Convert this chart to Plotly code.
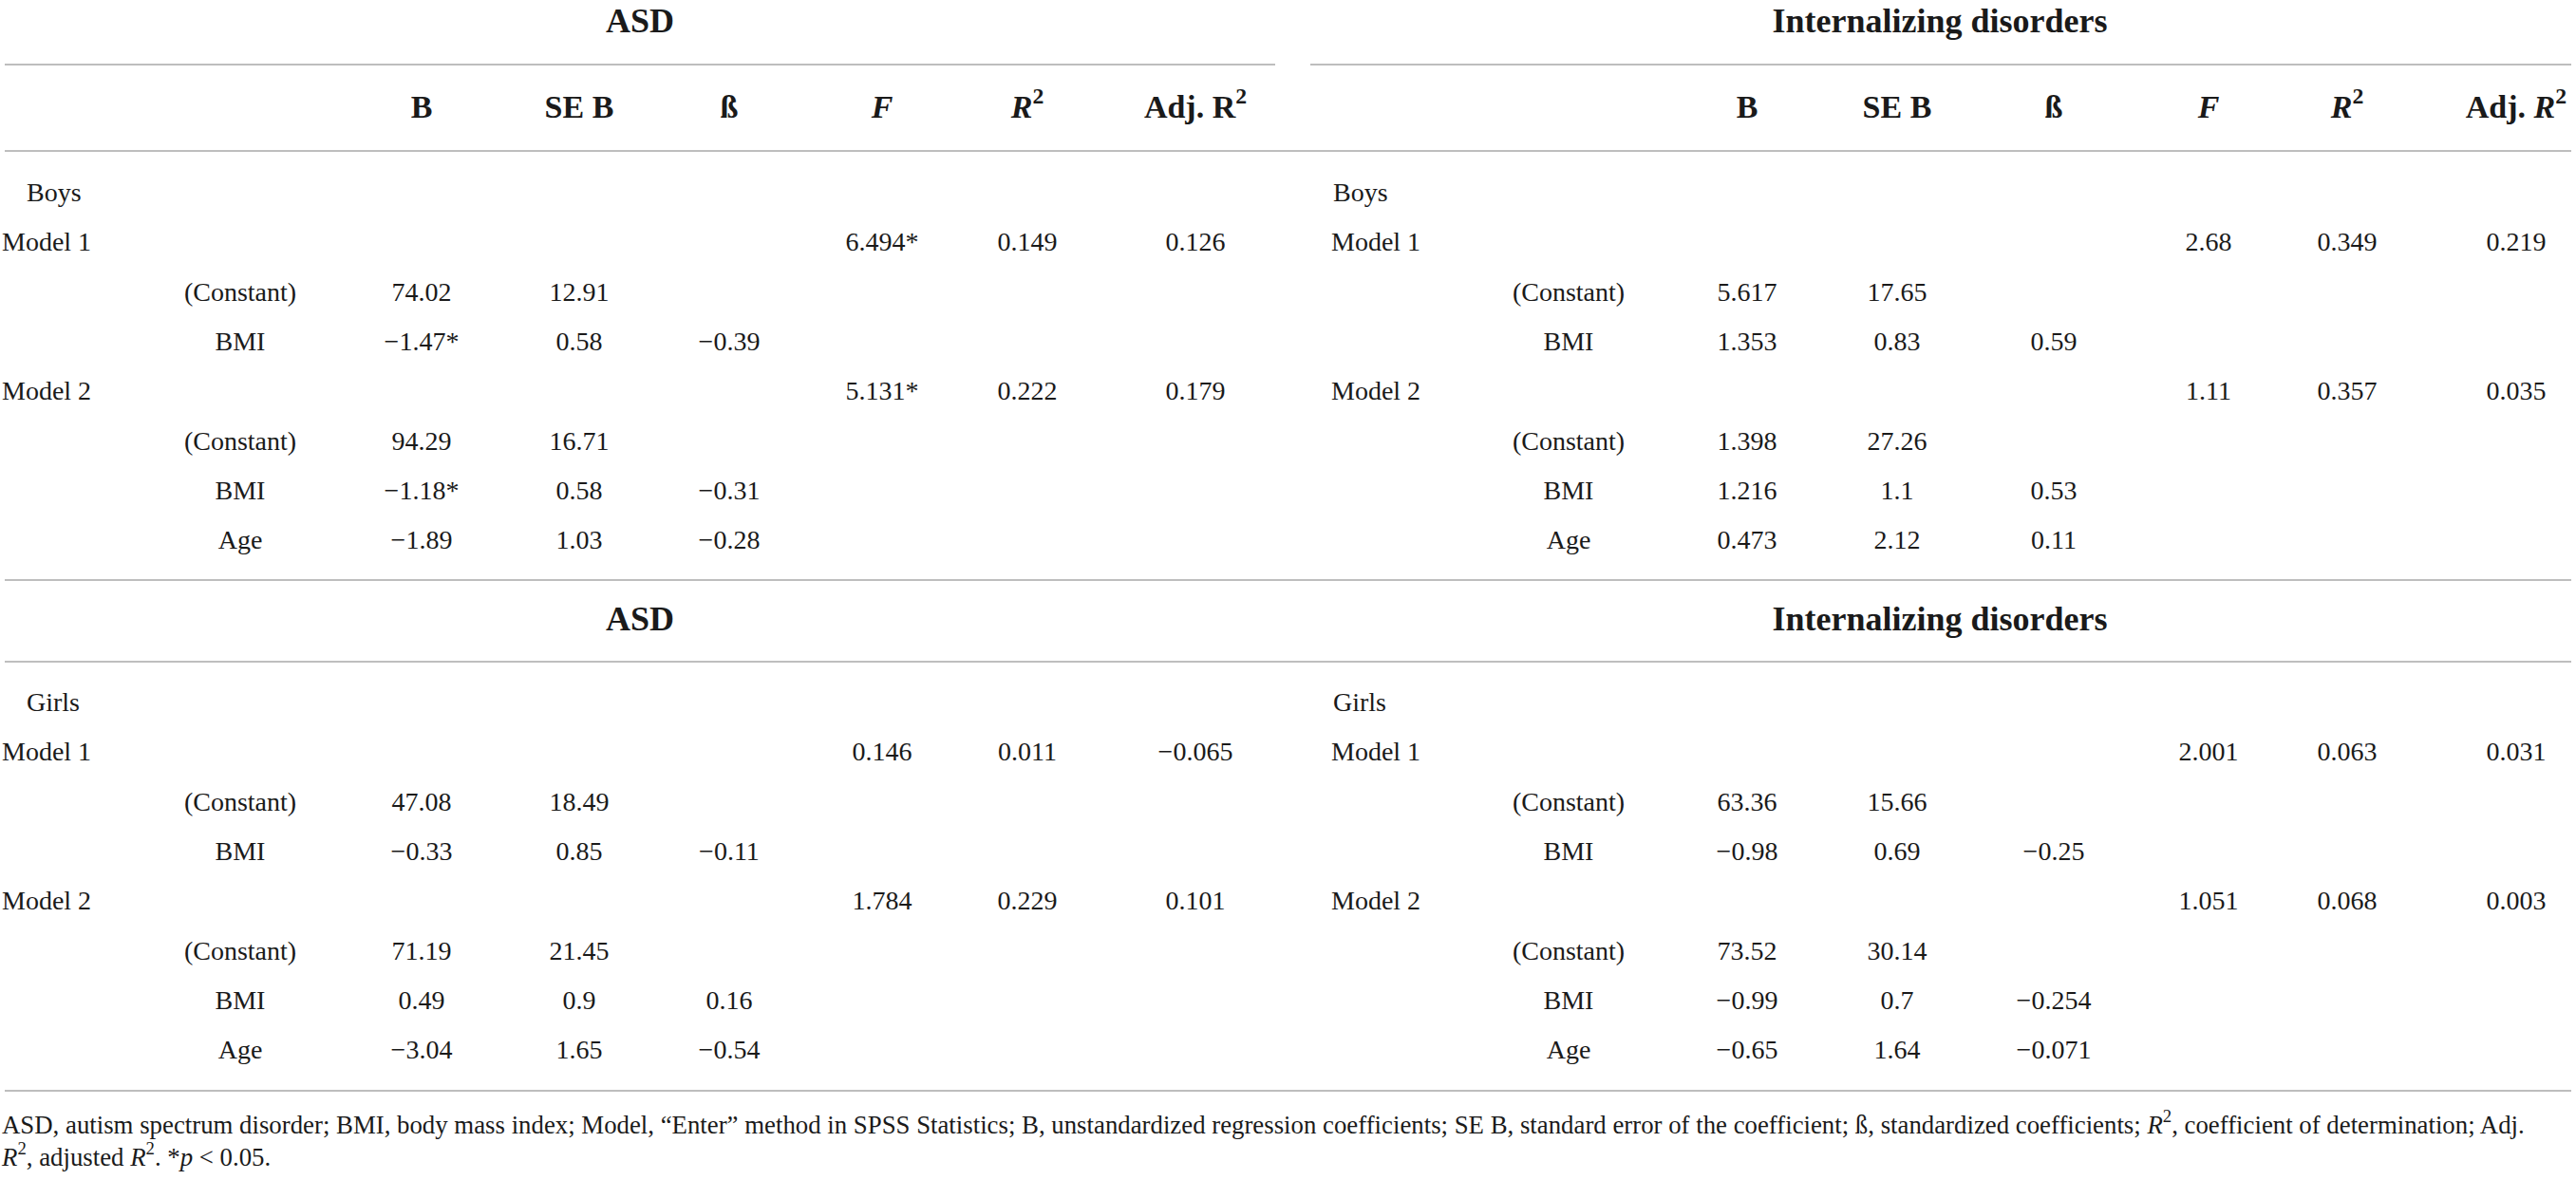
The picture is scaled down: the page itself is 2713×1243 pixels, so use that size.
import plotly.graph_objects as go

# ---------------- data ----------------
groups = ["ASD", "Internalizing disorders"]
col_headers_asd = ["B", "SE B", "ß", "<i>F</i>", "<i>R</i><sup>2</sup>", "Adj. R<sup>2</sup>"]
col_headers_int = ["B", "SE B", "ß", "<i>F</i>", "<i>R</i><sup>2</sup>", "Adj. <i>R</i><sup>2</sup>"]

row_labels_boys = ["Boys", "Model 1", "(Constant)", "BMI", "Model 2", "(Constant)", "BMI", "Age"]
row_labels_girls = ["Girls", "Model 1", "(Constant)", "BMI", "Model 2", "(Constant)", "BMI", "Age"]
row_level = [0, 1, 2, 2, 1, 2, 2, 2]

# columns: B, SE B, ß, F, R2, Adj. R2
asd_boys = [
    ["", "", "", "", "", ""],
    ["", "", "", "6.494*", "0.149", "0.126"],
    ["74.02", "12.91", "", "", "", ""],
    ["−1.47*", "0.58", "−0.39", "", "", ""],
    ["", "", "", "5.131*", "0.222", "0.179"],
    ["94.29", "16.71", "", "", "", ""],
    ["−1.18*", "0.58", "−0.31", "", "", ""],
    ["−1.89", "1.03", "−0.28", "", "", ""],
]
int_boys = [
    ["", "", "", "", "", ""],
    ["", "", "", "2.68", "0.349", "0.219"],
    ["5.617", "17.65", "", "", "", ""],
    ["1.353", "0.83", "0.59", "", "", ""],
    ["", "", "", "1.11", "0.357", "0.035"],
    ["1.398", "27.26", "", "", "", ""],
    ["1.216", "1.1", "0.53", "", "", ""],
    ["0.473", "2.12", "0.11", "", "", ""],
]
asd_girls = [
    ["", "", "", "", "", ""],
    ["", "", "", "0.146", "0.011", "−0.065"],
    ["47.08", "18.49", "", "", "", ""],
    ["−0.33", "0.85", "−0.11", "", "", ""],
    ["", "", "", "1.784", "0.229", "0.101"],
    ["71.19", "21.45", "", "", "", ""],
    ["0.49", "0.9", "0.16", "", "", ""],
    ["−3.04", "1.65", "−0.54", "", "", ""],
]
int_girls = [
    ["", "", "", "", "", ""],
    ["", "", "", "2.001", "0.063", "0.031"],
    ["63.36", "15.66", "", "", "", ""],
    ["−0.98", "0.69", "−0.25", "", "", ""],
    ["", "", "", "1.051", "0.068", "0.003"],
    ["73.52", "30.14", "", "", "", ""],
    ["−0.99", "0.7", "−0.254", "", "", ""],
    ["−0.65", "1.64", "−0.071", "", "", ""],
]

footnote_lines = [
    "ASD, autism spectrum disorder; BMI, body mass index; Model, “Enter” method in SPSS Statistics; "
    "B, unstandardized regression coefficients; SE B, standard error of the coefficient; ß, standardized "
    "coefficients; <i>R</i><sup>2</sup>, coefficient of determination; Adj.",
    "<i>R</i><sup>2</sup>, adjusted <i>R</i><sup>2</sup>. *<i>p</i> &lt; 0.05.",
]

# ---------------- layout constants ----------------
W, H = 2713, 1243
FONT = "Liberation Serif"
TXT = "#1a1a1a"
RULE = "#a8a8a8"

HALF = {
    "left": dict(sex_x=31, model_x=5, pred_x=253, cols=[444, 610, 768, 929, 1082, 1259], title_x=674),
    "right": dict(sex_x=1407, model_x=1405, pred_x=1652, cols=[1840, 1998, 2163, 2326, 2472, 2650], title_x=2043),
}
TITLE_Y = [25, 655]
HEADER_Y = 115
SECTION_Y0 = [205, 742]
ROW_STEP = 52.3
FOOT_Y = [1187, 1221]
LEFT_PAD = 3  # plotly text offset for 'middle right'

sections = [
    ("left", 0, row_labels_boys, asd_boys),
    ("right", 0, row_labels_boys, int_boys),
    ("left", 1, row_labels_girls, asd_girls),
    ("right", 1, row_labels_girls, int_girls),
]

fig = go.Figure()

def add_text(xs, ys, texts, pos="middle center", size=28, weight="normal"):
    fig.add_trace(go.Scatter(
        x=xs, y=ys, text=texts, mode="text", textposition=pos,
        textfont=dict(family=FONT, size=size, color=TXT, weight=weight),
        hoverinfo="skip", showlegend=False, cliponaxis=False,
    ))

# titles
tx, ty, tt = [], [], []
for ty0 in TITLE_Y:
    for half, g in zip(["left", "right"], groups):
        tx.append(HALF[half]["title_x"]); ty.append(ty0); tt.append(g)
add_text(tx, ty, tt, size=36, weight="bold")

# column headers
hx, hy, ht = [], [], []
for half, heads in zip(["left", "right"], [col_headers_asd, col_headers_int]):
    for cx, h in zip(HALF[half]["cols"], heads):
        hx.append(cx); hy.append(HEADER_Y); ht.append(h)
add_text(hx, hy, ht, size=34, weight="bold")

# body cells
cx_, cy_, ct_ = [], [], []
lx_, ly_, lt_ = [], [], []
px_, py_, pt_ = [], [], []
for half, si, labels, rows in sections:
    hcfg = HALF[half]
    for ri, (lab, lvl, row) in enumerate(zip(labels, row_level, rows)):
        y = SECTION_Y0[si] + ri * ROW_STEP
        if lvl == 0:
            lx_.append(hcfg["sex_x"] - LEFT_PAD); ly_.append(y); lt_.append(lab)
        elif lvl == 1:
            lx_.append(hcfg["model_x"] - LEFT_PAD); ly_.append(y); lt_.append(lab)
        else:
            px_.append(hcfg["pred_x"]); py_.append(y); pt_.append(lab)
        for cx, val in zip(hcfg["cols"], row):
            if val:
                cx_.append(cx); cy_.append(y); ct_.append(val)
add_text(lx_, ly_, lt_, pos="middle right")
add_text(px_, py_, pt_)
add_text(cx_, cy_, ct_)

# footnote
add_text([5 - LEFT_PAD] * len(footnote_lines), FOOT_Y, footnote_lines, pos="middle right", size=26.8)

# rules
rules = [
    (5, 1343, 68), (1380, 2708, 68),
    (5, 2708, 159),
    (5, 2708, 611),
    (5, 2708, 697),
    (5, 2708, 1149),
]
for x0, x1, y in rules:
    fig.add_shape(type="line", xref="x", yref="y", x0=x0, x1=x1, y0=y, y1=y,
                  line=dict(color=RULE, width=1.6))

fig.update_layout(
    width=W, height=H, autosize=False,
    margin=dict(l=0, r=0, t=0, b=0),
    paper_bgcolor="white", plot_bgcolor="white",
    xaxis=dict(range=[0, W], visible=False, fixedrange=True),
    yaxis=dict(range=[H, 0], visible=False, fixedrange=True),
    showlegend=False,
)

fig.write_html("out.html", config={"displayModeBar": False},
               post_script="document.body.style.margin='0';document.body.style.overflow='hidden';")
